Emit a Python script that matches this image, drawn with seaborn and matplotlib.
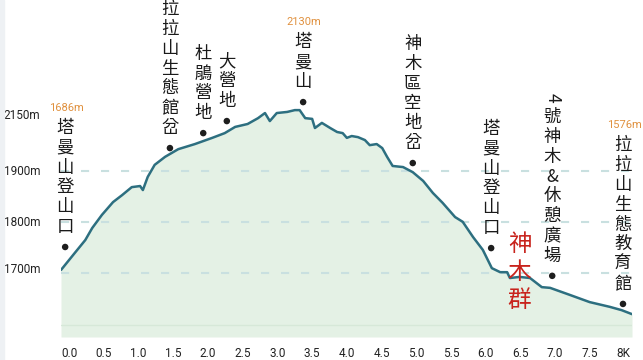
import numpy as np
import pandas as pd
import matplotlib
matplotlib.use("Agg")
import matplotlib.pyplot as plt
import seaborn as sns
from matplotlib.patches import Rectangle

# ---------------- data ----------------
dist_km = [0.00, 0.20, 0.35, 0.45, 0.59, 0.75, 0.88, 1.02, 1.14, 1.18, 1.25, 1.35, 1.50,
           1.69, 1.93, 2.18, 2.36, 2.51, 2.69, 2.84, 2.94, 3.01, 3.11, 3.26, 3.37, 3.44,
           3.52, 3.62, 3.66, 3.76, 3.88, 3.98, 4.06, 4.12, 4.19, 4.28, 4.38, 4.45, 4.55,
           4.63, 4.70, 4.78, 4.93, 5.07, 5.22, 5.36, 5.50, 5.68, 5.79, 5.94, 6.08, 6.21,
           6.33, 6.43, 6.47, 6.61, 6.76, 6.93, 7.05, 7.33, 7.62, 7.91, 8.08, 8.23]
elev_m = [1686, 1733, 1768, 1801, 1837, 1872, 1891, 1913, 1916, 1905, 1941, 1974, 1996,
          2017, 2031, 2048, 2061, 2078, 2086, 2102, 2116, 2094, 2116, 2119, 2124, 2124,
          2102, 2100, 2075, 2089, 2075, 2064, 2061, 2048, 2053, 2050, 2042, 2028, 2031,
          2020, 1996, 1971, 1968, 1954, 1930, 1897, 1870, 1831, 1818, 1776, 1741, 1691,
          1680, 1680, 1664, 1667, 1664, 1639, 1637, 1618, 1598, 1585, 1576, 1565]

stop_names = ["塔曼山登山口", "拉拉山生態館岔", "杜鵑營地", "大營地", "塔曼山",
              "神木區空地岔", "塔曼山登山口", "4號神木&休憩廣場", "拉拉山生態教育館"]
stop_km = [0.06, 1.57, 2.05, 2.39, 3.49, 5.07, 6.20, 7.08, 8.10]
stop_elev = [1749, 2020, 2061, 2094, 2146, 1979, 1746, 1670, 1593]
stop_height_label = ["1686m", "", "", "", "2130m", "", "", "", "1576m"]

highlight_text = "神木群"
highlight_km = 6.61
highlight_elev = 1757

x_ticks = [0.0, 0.5, 1.0, 1.5, 2.0, 2.5, 3.0, 3.5, 4.0, 4.5, 5.0, 5.5, 6.0, 6.5, 7.0, 7.5, 8.0]
x_tick_labels = ["0.0", "0.5", "1.0", "1.5", "2.0", "2.5", "3.0", "3.5", "4.0", "4.5",
                 "5.0", "5.5", "6.0", "6.5", "7.0", "7.5", "8K"]
y_tick_pos = [2113, 1960, 1820, 1691]
y_tick_labels = ["2150m", "1900m", "1800m", "1700m"]
grid_levels = [1957, 1818, 1678]
base_level = 1535

# ---------------- style ----------------
sns.set_theme(style="white")
plt.rcParams["font.family"] = ["Roboto", "DejaVu Sans"]
CJK = ["Noto Sans CJK TC", "DejaVu Sans"]

LINE = "#2d6f80"
FILL = "#e4f1e5"
GRID = "#c9e0e0"
ORANGE = "#e0913f"
RED = "#c8231c"

fig = plt.figure(figsize=(6.43, 3.60), dpi=100)
fig.patches.append(Rectangle((0, 0), 4 / 643, 1, transform=fig.transFigure,
                             color="#eef1f4", zorder=0))
ax = fig.add_axes([61 / 643, 23 / 360, 571 / 643, 337 / 360])
ax.set_facecolor("none")

ymin, ymax = 1502.4, 2425.7
ax.set_xlim(0, 8.23)
ax.set_ylim(ymin, ymax)

df = pd.DataFrame({"km": dist_km, "elev": elev_m})
ax.fill_between(df["km"], df["elev"], ymin, color=FILL, lw=0, zorder=1)
ax.axhline(base_level, color="#d6e8d8", lw=1.0, zorder=1.5)
for g in grid_levels:
    ax.axhline(g, color=GRID, lw=1.5, ls=(0, (3.9, 5.7)), zorder=2)
sns.lineplot(data=df, x="km", y="elev", ax=ax, color=LINE, lw=1.8,
             estimator=None, sort=False, zorder=3)

stops = pd.DataFrame({"km": stop_km, "elev": stop_elev})
sns.scatterplot(data=stops, x="km", y="elev", ax=ax, color="#1e1e1e", s=22,
                edgecolor="none", zorder=5)

pitch = 19.8
for name, x, y, hl in zip(stop_names, stop_km, stop_elev, stop_height_label):
    chars = list(name)
    n = len(chars)
    for i, ch in enumerate(chars):
        off = 20 + (n - 1 - i) * pitch
        rot = -90 if ch.isdigit() else 0
        ax.annotate(ch, (x, y), xytext=(0, off), textcoords="offset pixels",
                    ha="center", va="center", fontsize=12.5, rotation=rot,
                    family=CJK, fontweight="medium", color="#1a1a1a", zorder=6)
    if hl:
        off = 20 + (n - 1) * pitch + 20
        ax.annotate(hl, (x, y), xytext=(1, off), textcoords="offset pixels",
                    ha="center", va="center", fontsize=8, color=ORANGE, zorder=6)

for i, ch in enumerate(highlight_text):
    ax.annotate(ch, (highlight_km, highlight_elev), xytext=(0, -28 * i),
                textcoords="offset pixels", ha="center", va="center",
                fontsize=17, family=CJK, color=RED, zorder=6)

ax.set_xticks(x_ticks)
ax.set_xticklabels(x_tick_labels, ha="left", fontsize=8.5, color="#222222")
ax.set_yticks(y_tick_pos)
ax.set_yticklabels(y_tick_labels, fontsize=8.5, color="#222222")
ax.tick_params(axis="x", length=0, pad=7)
ax.tick_params(axis="y", length=0, pad=15)
ax.set_xlabel("")
ax.set_ylabel("")
for s in ax.spines.values():
    s.set_visible(False)
ax.grid(False)

fig.savefig("out.png", dpi=100)
